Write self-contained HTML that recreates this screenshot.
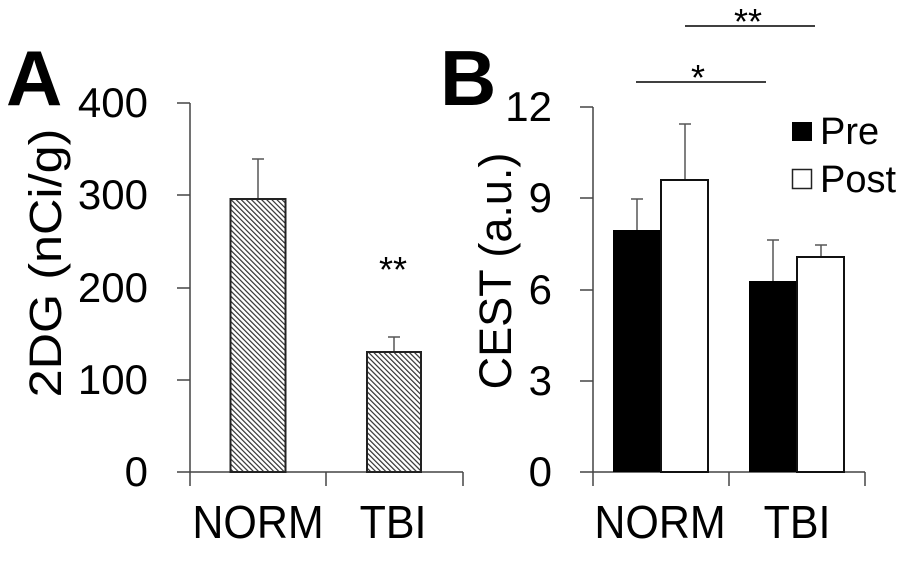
<!DOCTYPE html>
<html><head><meta charset="utf-8"><style>
body{margin:0;background:#fff}
svg text{font-family:"Liberation Sans",Arial,sans-serif;fill:#000}
</style></head><body>
<svg width="917" height="558" viewBox="0 0 917 558" xmlns="http://www.w3.org/2000/svg">
<defs>
<pattern id="h" width="3.6" height="3.6" patternUnits="userSpaceOnUse" patternTransform="rotate(-45)">
<rect width="3.6" height="3.6" fill="#fff"/><rect width="1.2" height="3.6" fill="#333"/>
</pattern>
</defs>
<!-- Panel A -->
<text x="6" y="105" font-size="78" font-weight="bold">A</text>
<g stroke="#444" stroke-width="1.5" fill="none">
<line x1="190" y1="103" x2="190" y2="472"/>
<line x1="177" y1="103" x2="190" y2="103"/>
<line x1="177" y1="195" x2="190" y2="195"/>
<line x1="177" y1="288" x2="190" y2="288"/>
<line x1="177" y1="380" x2="190" y2="380"/>
<line x1="177" y1="472" x2="463" y2="472"/>
<line x1="190" y1="472" x2="190" y2="486"/>
<line x1="326" y1="472" x2="326" y2="486"/>
<line x1="463" y1="472" x2="463" y2="486"/>
</g>
<g font-size="42" text-anchor="end">
<text x="148" y="117">400</text>
<text x="148" y="209">300</text>
<text x="148" y="302">200</text>
<text x="148" y="394">100</text>
<text x="148" y="486">0</text>
</g>
<g stroke="#555" stroke-width="1.5">
<line x1="258" y1="159" x2="258" y2="199"/><line x1="252" y1="159" x2="264" y2="159"/>
<line x1="394" y1="337" x2="394" y2="352"/><line x1="388" y1="337" x2="400" y2="337"/>
</g>
<rect x="230.5" y="199" width="55" height="273" fill="url(#h)" stroke="#222" stroke-width="2"/>
<rect x="367" y="352" width="54" height="120" fill="url(#h)" stroke="#222" stroke-width="2"/>
<text x="393" y="282" font-size="36" text-anchor="middle">**</text>
<text transform="translate(258,538) scale(1,1.07)" font-size="43" text-anchor="middle">NORM</text>
<text transform="translate(393,538) scale(1,1.07)" font-size="43" text-anchor="middle">TBI</text>
<text transform="translate(61,263) rotate(-90) scale(1.12,1)" font-size="45" text-anchor="middle">2DG (nCi/g)</text>
<!-- Panel B -->
<text x="440" y="105" font-size="78" font-weight="bold">B</text>
<g stroke="#444" stroke-width="1.5" fill="none">
<line x1="593" y1="107" x2="593" y2="472"/>
<line x1="580" y1="107" x2="593" y2="107"/>
<line x1="580" y1="198" x2="593" y2="198"/>
<line x1="580" y1="290" x2="593" y2="290"/>
<line x1="580" y1="381" x2="593" y2="381"/>
<line x1="580" y1="472" x2="865" y2="472"/>
<line x1="593" y1="472" x2="593" y2="486"/>
<line x1="729" y1="472" x2="729" y2="486"/>
<line x1="865" y1="472" x2="865" y2="486"/>
</g>
<g font-size="42" text-anchor="end">
<text x="552" y="121">12</text>
<text x="552" y="212">9</text>
<text x="552" y="304">6</text>
<text x="552" y="395">3</text>
<text x="552" y="486">0</text>
</g>
<g stroke="#555" stroke-width="1.5">
<line x1="637" y1="199" x2="637" y2="230"/><line x1="631" y1="199" x2="643" y2="199"/>
<line x1="685" y1="124" x2="685" y2="180"/><line x1="679" y1="124" x2="691" y2="124"/>
<line x1="773" y1="240" x2="773" y2="281"/><line x1="767" y1="240" x2="779" y2="240"/>
<line x1="821" y1="245" x2="821" y2="257"/><line x1="815" y1="245" x2="827" y2="245"/>
</g>
<rect x="613" y="230" width="48" height="242" fill="#000"/>
<rect x="661" y="180" width="47" height="292" fill="#fff" stroke="#111" stroke-width="2"/>
<rect x="749" y="281" width="48" height="191" fill="#000"/>
<rect x="797" y="257" width="47" height="215" fill="#fff" stroke="#111" stroke-width="2"/>
<rect x="792" y="122" width="20" height="19" fill="#000"/>
<rect x="792.5" y="169.5" width="19" height="19" fill="#fff" stroke="#222" stroke-width="1.5"/>
<text x="820" y="144" font-size="38">Pre</text>
<text x="820" y="192" font-size="38">Post</text>
<line x1="685" y1="26" x2="815" y2="26" stroke="#000" stroke-width="1.5"/>
<line x1="636" y1="82" x2="766" y2="82" stroke="#000" stroke-width="1.5"/>
<text x="748" y="34" font-size="36" text-anchor="middle">**</text>
<text x="698" y="90" font-size="36" text-anchor="middle">*</text>
<text transform="translate(660,538) scale(1,1.07)" font-size="43" text-anchor="middle">NORM</text>
<text transform="translate(797,538) scale(1,1.07)" font-size="43" text-anchor="middle">TBI</text>
<text transform="translate(511,271) rotate(-90)" font-size="45" text-anchor="middle">CEST (a.u.)</text>
</svg>
</body></html>
